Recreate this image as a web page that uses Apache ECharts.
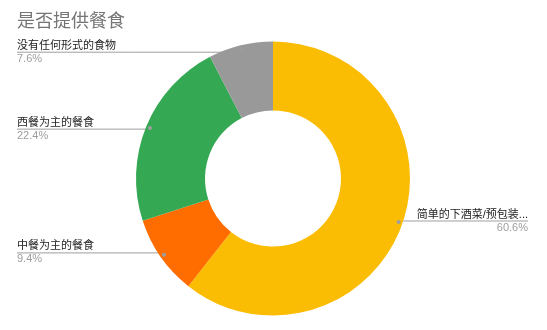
<!DOCTYPE html>
<html><head><meta charset="utf-8">
<script src="https://cdn.jsdelivr.net/npm/echarts@6/dist/echarts.min.js"></script>
<style>html,body{margin:0;padding:0;background:#fff}#c{width:547px;height:330px}</style>
</head><body><div id="c"></div>
<script>
const title = '是否提供餐食';
const categories = ['简单的下酒菜/预包装...', '中餐为主的餐食', '西餐为主的餐食', '没有任何形式的食物'];
const values = [60.6, 9.4, 22.4, 7.6];
const colors = ['#FBBC04', '#FF6D01', '#34A853', '#999999'];

const CX = 273, CY = 178.5, R_OUT = 137, R_IN = 68, R_DOT = 130;
const FONT = '"Liberation Sans", Arial, "Noto Sans CJK SC", sans-serif';
const total = values.reduce((a, b) => a + b, 0);
function midAngle(i) {
  let before = 0;
  for (let k = 0; k < i; k++) before += values[k];
  return (before + values[i] / 2) / total * Math.PI * 2;
}
const data = categories.map((n, i) => ({ name: n, value: values[i], itemStyle: { color: colors[i] } }));

const chart = echarts.init(document.getElementById('c'));
chart.setOption({
  animation: false,
  title: { text: title, left: 12, top: 8, textStyle: { fontSize: 18, fontWeight: 'normal', color: '#757575', fontFamily: FONT } },
  series: [{
    type: 'pie',
    center: [CX, CY],
    radius: [R_IN, R_OUT],
    startAngle: 90,
    clockwise: true,
    avoidLabelOverlap: false,
    percentPrecision: 1,
    silent: true,
    data: data,
    label: {
      show: true,
      position: 'outside',
      formatter: '{n|{b}}\n{p|{d}%}',
      rich: {
        n: { fontSize: 11, color: '#222', lineHeight: 13, fontFamily: FONT },
        p: { fontSize: 11, color: '#9e9e9e', lineHeight: 13, fontFamily: FONT }
      }
    },
    labelLine: { show: true, lineStyle: { color: '#9e9e9e', width: 1 } },
    labelLayout: function (params) {
      const a = midAngle(params.dataIndex);
      const dx = CX + R_DOT * Math.sin(a), dy = CY - R_DOT * Math.cos(a);
      const right = Math.sin(a) > 0;
      const ex = right ? 528 : 17;
      return {
        x: ex, y: dy,
        align: right ? 'right' : 'left',
        verticalAlign: 'middle',
        labelLinePoints: [[dx, dy], [(dx + ex) / 2, dy], [ex, dy]]
      };
    }
  }, {
    type: 'pie',
    center: [CX, CY],
    radius: [R_DOT - 4, R_DOT + 4],
    startAngle: 90,
    clockwise: true,
    silent: true,
    z: 5,
    data: categories.map((n, i) => ({ name: n, value: values[i] })),
    itemStyle: { color: 'rgba(0,0,0,0)' },
    label: {
      show: true, position: 'inside',
      formatter: '{d|}',
      rich: { d: { width: 4, height: 4, borderRadius: 2, backgroundColor: '#9e9e9e' } }
    },
    labelLine: { show: false }
  }]
});
</script>
</body></html>
